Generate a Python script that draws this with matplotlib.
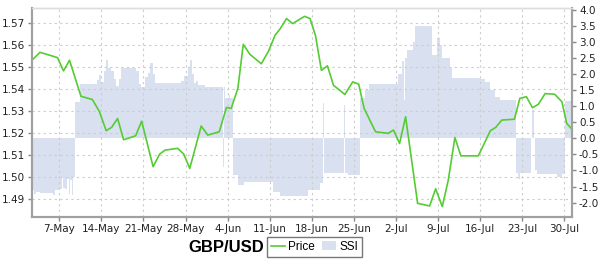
import matplotlib
matplotlib.use("Agg")
import matplotlib.pyplot as plt
from matplotlib.lines import Line2D
from matplotlib.patches import Patch
import numpy as np

# jours comptés depuis le 7-May (positions)
price_day = [-4.45, -3.2, -0.3, 0.7, 1.7, 3.6, 5.5, 6.65, 7.8, 8.7, 9.7, 10.7,
             12.7, 13.7, 15.6, 16.7, 17.6, 19.7, 20.7, 21.7, 23.6, 24.7, 26.6,
             27.8, 28.6, 29.7, 30.6, 31.7, 33.6, 34.8, 35.9, 36.7, 37.8, 38.8,
             40.8, 41.7, 42.6, 43.6, 44.6, 45.6, 47.5, 48.8, 49.8, 50.7, 52.6,
             54.7, 55.6, 56.6, 57.6, 59.6, 61.6, 62.6, 63.7, 64.7, 65.8, 66.8,
             69.7, 71.7, 72.6, 73.6, 75.7, 76.6, 77.7, 78.7, 79.7, 80.8, 82.4,
             83.6, 84.4, 85.3]
price = [1.5533, 1.5566, 1.5542, 1.5482, 1.5530, 1.5367, 1.5352, 1.5299,
         1.5211, 1.5226, 1.5266, 1.5170, 1.5188, 1.5254, 1.5048, 1.5105,
         1.5123, 1.5131, 1.5105, 1.5040, 1.5232, 1.5191, 1.5206, 1.5316,
         1.5312, 1.5402, 1.5602, 1.5557, 1.5514, 1.5571, 1.5644, 1.5671,
         1.5719, 1.5696, 1.5729, 1.5719, 1.5644, 1.5484, 1.5505, 1.5417,
         1.5375, 1.5432, 1.5422, 1.5312, 1.5206, 1.5199, 1.5214, 1.5153,
         1.5274, 1.4882, 1.4870, 1.4948, 1.4867, 1.4987, 1.5180, 1.5097,
         1.5097, 1.5211, 1.5226, 1.5259, 1.5263, 1.5357, 1.5365, 1.5315,
         1.5331, 1.5379, 1.5376, 1.5342, 1.5244, 1.5217]

ssi_day = [-4.6, -4.2, -3.9, -3.2, -1.55, -1.05, -0.7, 0.1, 0.45, 0.6, 0.95,
           1.3, 1.6, 1.8, 2.1, 2.3, 2.6, 3.45, 6.3, 6.6, 6.9, 7.4, 7.8, 8.1,
           8.6, 9.1, 9.4, 9.9, 10.3, 12.8, 13.3, 13.6, 14.3, 14.8, 15.1, 15.6,
           15.9, 20.3, 20.7, 21.4, 21.8, 22.1, 22.4, 22.8, 23.1, 24.3, 27.2,
           27.4, 27.5, 28.2, 28.4, 28.9, 29.8, 30.65, 34.4, 35.6, 36.7, 41.35,
           43.4, 43.8, 44.0, 47.3, 47.5, 48.0, 50.0, 50.9, 51.5, 55.8, 56.4,
           57.0, 57.3, 57.5, 57.8, 58.8, 59.2, 62.0, 62.8, 63.3, 63.6, 65.0,
           65.3, 70.0, 70.8, 71.6, 72.5, 73.3, 76.0, 76.3, 76.6, 78.4, 78.6,
           78.9, 79.1, 79.5, 82.8, 83.6, 84.1, 85.4]
ssi = [-1.60, -1.72, -1.68, -1.69, -1.70, -1.76, -1.62, -1.58, -1.20, -1.56,
       -1.58, -1.25, -1.72, -1.30, -1.75, -1.20, 1.14, 1.69, 1.82, 1.97, 1.75,
       2.10, 2.44, 2.20, 2.10, 1.85, 1.62, 1.85, 2.19, 2.10, 1.70, 1.60, 1.90,
       2.05, 2.34, 2.00, 1.72, 1.78, 1.95, 2.20, 2.44, 2.00, 1.72, 1.80, 1.65,
       1.61, -0.88, 1.61, 1.25, 1.35, 1.25, -1.14, -1.45, -1.35, -1.35, -1.66,
       -1.80, -1.61, -1.40, 1.09, -1.09, 1.04, -1.09, -1.14, 1.25, 1.50, 1.71,
       1.71, 2.00, 2.40, 1.20, 2.50, 2.75, 3.00, 3.50, 2.60, 3.12, 2.90, 2.50,
       2.20, 1.88, 1.85, 1.75, 1.50, 1.30, 1.19, -1.09, -1.27, -1.09, 0.0,
       0.88, 0.0, -0.98, -1.11, -1.20, -1.11, 1.18, 1.18]

tick_day = [0, 7, 14, 21, 28, 35, 42, 49, 56, 63, 70, 77, 84]
tick_labels = ['7-May', '14-May', '21-May', '28-May', '4-Jun', '11-Jun',
               '18-Jun', '25-Jun', '2-Jul', '9-Jul', '16-Jul', '23-Jul', '30-Jul']
price_ticks = [1.49, 1.50, 1.51, 1.52, 1.53, 1.54, 1.55, 1.56, 1.57]
ssi_ticks = [-2.0, -1.5, -1.0, -0.5, 0.0, 0.5, 1.0, 1.5, 2.0, 2.5, 3.0, 3.5, 4.0]

green = '#55cc33'
fill_col = '#d9e0f0'
spine_col = '#a0a0a0'

fig = plt.figure(figsize=(6.02, 2.64), dpi=100)
ax = fig.add_axes([32/602, 1-217/264, 540/602, 209.5/264])
ax2 = ax.twinx()

# SSI en aire, axe de droite
ax2.fill_between(ssi_day, ssi, 0, step='post', color=fill_col, lw=0)
ax2.set_ylim(-2.45, 4.08)
ax2.set_yticks(ssi_ticks)
ax2.set_yticklabels(['%.1f' % v for v in ssi_ticks])

# prix, axe de gauche, au-dessus
ax.set_zorder(ax2.get_zorder() + 1)
ax.patch.set_visible(False)
ax.plot(price_day, price, color=green, lw=1.2)
ax.set_ylim(1.482, 1.5769)
ax.set_yticks(price_ticks)
ax.set_yticklabels(['%.2f' % v for v in price_ticks])
ax.set_xlim(-4.54, 85.28)
ax.set_xticks(tick_day)
ax.set_xticklabels(tick_labels)
ax.grid(True, color='#cccccc', linestyle=(0, (2, 3)), lw=0.8)

for a in (ax, ax2):
    a.tick_params(labelsize=7.5, length=3, width=1, color='#888888',
                  labelcolor='#222222', pad=2)
    for s in a.spines.values():
        s.set_color(spine_col)
        s.set_linewidth(1.5)
    a.spines['top'].set_color('#dddddd')
    a.spines['top'].set_linewidth(1)

fig.text(226/602, 1-247/264, 'GBP/USD', fontsize=12, fontweight='bold',
         family='Liberation Sans', ha='center', va='center')
handles = [Line2D([], [], color=green, lw=1.2),
           Patch(facecolor=fill_col, edgecolor='none')]
leg = fig.legend(handles, ['Price', 'SSI'], loc='center left',
                 bbox_to_anchor=(267/602, 1-247/264), ncol=2,
                 prop={'family': 'Liberation Sans', 'size': 8.5},
                 frameon=True, fancybox=False, handlelength=1.2,
                 handleheight=0.8, handletextpad=0.3, columnspacing=0.6,
                 borderpad=0.3, borderaxespad=0)
leg.get_frame().set_edgecolor('#555555')
leg.get_frame().set_linewidth(1.0)

fig.savefig('out.png', dpi=100)
